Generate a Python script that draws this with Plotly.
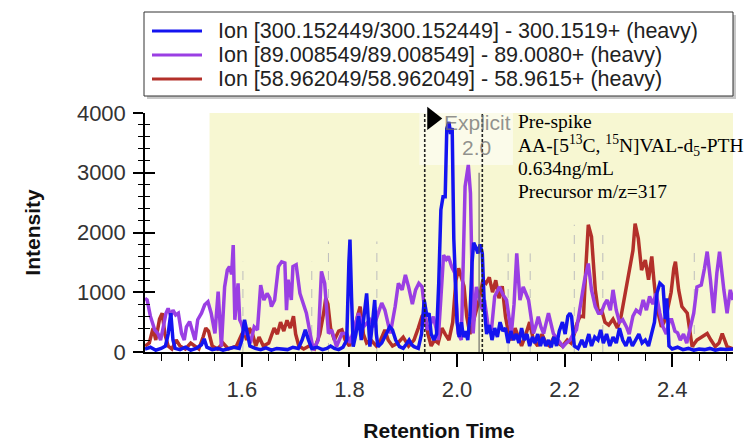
import plotly.graph_objects as go

# ---------------- data ----------------
series_names = [
    "Ion [300.152449/300.152449] - 300.1519+ (heavy)",
    "Ion [89.008549/89.008549] - 89.0080+ (heavy)",
    "Ion [58.962049/58.962049] - 58.9615+ (heavy)",
]

blue_t = [1.420, 1.430, 1.440, 1.450, 1.458, 1.463, 1.468, 1.472, 1.476, 1.485, 1.495, 1.505, 1.515, 1.525,
          1.530, 1.535, 1.545, 1.555, 1.565, 1.575, 1.585, 1.595, 1.600, 1.605, 1.610, 1.615, 1.625, 1.635,
          1.645, 1.655, 1.665, 1.675, 1.685, 1.695, 1.705, 1.712, 1.718, 1.724, 1.730, 1.740, 1.750, 1.758,
          1.765, 1.772, 1.780, 1.788, 1.795, 1.799, 1.801, 1.804, 1.807, 1.812, 1.817, 1.822, 1.828, 1.832,
          1.836, 1.838, 1.843, 1.847, 1.850, 1.853, 1.860, 1.865, 1.869, 1.875, 1.880, 1.886, 1.893, 1.900,
          1.905, 1.911, 1.916, 1.920, 1.928, 1.934, 1.939, 1.944, 1.948, 1.952, 1.957, 1.962, 1.966, 1.970,
          1.974, 1.978, 1.981, 1.985, 1.988, 1.991, 1.994, 1.997, 2.000, 2.004, 2.008, 2.012, 2.016, 2.020,
          2.024, 2.028, 2.031, 2.035, 2.039, 2.043, 2.047, 2.051, 2.055, 2.060, 2.065, 2.070, 2.075, 2.080,
          2.085, 2.090, 2.095, 2.100, 2.105, 2.110, 2.115, 2.120, 2.125, 2.130, 2.135, 2.140, 2.145, 2.150,
          2.155, 2.160, 2.165, 2.170, 2.175, 2.180, 2.185, 2.190, 2.196, 2.201, 2.206, 2.210, 2.213, 2.218,
          2.225, 2.232, 2.238, 2.245, 2.250, 2.256, 2.262, 2.267, 2.272, 2.278, 2.284, 2.290, 2.296, 2.302,
          2.308, 2.314, 2.320, 2.326, 2.332, 2.338, 2.344, 2.350, 2.356, 2.362, 2.367, 2.372, 2.377, 2.383,
          2.387, 2.390, 2.394, 2.400, 2.410, 2.420, 2.430, 2.440, 2.450, 2.460, 2.470, 2.480, 2.490, 2.500,
          2.513]
blue_v = [50, 80, 30, 60, 100, 300, 650, 200, 60, 40, 80, 30, 60, 120,
          220, 80, 40, 60, 30, 50, 80, 60, 200, 540, 300, 100, 60, 40,
          70, 30, 60, 50, 40, 80, 60, 200, 370, 200, 60, 80, 40, 60,
          100, 60, 40, 80, 200, 1500, 1880, 900, 90, 300, 600, 200, 700, 980,
          400, 90, 500, 870, 300, 90, 150, 250, 310, 420, 370, 200, 90, 60,
          120, 200, 120, 90, 60, 300, 870, 600, 650, 300, 200, 300, 1150, 2380,
          2600, 2600, 3740, 3850, 3650, 3750, 1900, 1300, 500, 250, 500, 250, 350, 200,
          600, 1500, 1830, 1750, 1650, 1800, 1650, 700, 300, 450, 200, 400, 250, 500,
          350, 400, 150, 350, 200, 300, 150, 400, 200, 300, 100, 250, 150, 300,
          100, 250, 100, 200, 80, 250, 100, 350, 500, 300, 600, 650, 590, 100,
          60, 200, 80, 300, 100, 250, 200, 370, 150, 300, 100, 250, 150, 400,
          200, 100, 250, 100, 200, 300, 150, 200, 100, 300, 500, 1000, 1150, 1100,
          550, 900, 100, 50, 80, 40, 60, 30, 50, 40, 60, 30, 50, 40,
          50]

purple_t = [1.420, 1.424, 1.430, 1.438, 1.444, 1.449, 1.454, 1.459, 1.463, 1.468, 1.472, 1.477, 1.482, 1.488,
            1.493, 1.497, 1.503, 1.509, 1.513, 1.518, 1.525, 1.531, 1.537, 1.543, 1.550, 1.556, 1.562, 1.568,
            1.573, 1.577, 1.581, 1.584, 1.587, 1.593, 1.596, 1.599, 1.605, 1.610, 1.616, 1.623, 1.629, 1.635,
            1.641, 1.647, 1.652, 1.655, 1.661, 1.668, 1.674, 1.680, 1.683, 1.686, 1.692, 1.695, 1.701, 1.708,
            1.714, 1.720, 1.727, 1.733, 1.742, 1.748, 1.754, 1.761, 1.767, 1.772, 1.776, 1.786, 1.795, 1.801,
            1.807, 1.812, 1.817, 1.826, 1.832, 1.838, 1.845, 1.851, 1.860, 1.866, 1.871, 1.876, 1.885, 1.891,
            1.898, 1.904, 1.910, 1.917, 1.923, 1.929, 1.935, 1.940, 1.944, 1.950, 1.956, 1.961, 1.965, 1.970,
            1.975, 1.980, 1.984, 1.990, 1.996, 2.002, 2.008, 2.015, 2.021, 2.025, 2.030, 2.036, 2.042, 2.047,
            2.051, 2.058, 2.064, 2.070, 2.079, 2.086, 2.092, 2.101, 2.106, 2.111, 2.117, 2.123, 2.133, 2.142,
            2.147, 2.151, 2.156, 2.161, 2.170, 2.175, 2.179, 2.188, 2.197, 2.203, 2.210, 2.216, 2.222, 2.231,
            2.237, 2.244, 2.250, 2.257, 2.263, 2.268, 2.274, 2.279, 2.285, 2.290, 2.296, 2.302, 2.308, 2.315,
            2.320, 2.327, 2.333, 2.340, 2.346, 2.352, 2.358, 2.364, 2.370, 2.377, 2.383, 2.389, 2.395, 2.399,
            2.405, 2.410, 2.415, 2.421, 2.427, 2.434, 2.440, 2.446, 2.454, 2.460, 2.465, 2.471, 2.477, 2.483,
            2.488, 2.496, 2.502, 2.508, 2.513]
purple_v = [900, 870, 600, 370, 310, 200, 420, 650, 730, 600, 700, 620, 650, 310,
            200, 420, 510, 310, 200, 540, 650, 790, 840, 650, 310, 1010, 90, 1090,
            1370, 1430, 1300, 1790, 540, 1150, 540, 480, 310, 310, 150, 420, 370, 1120,
            870, 980, 900, 760, 870, 1430, 1510, 1490, 700, 1210, 870, 1430, 1460, 980,
            820, 650, 310, 30, 200, 1350, 1150, 310, 370, 200, 90, 310, 310, 150,
            370, 500, 650, 420, 480, 540, 420, 590, 820, 700, 500, 310, 760, 1150,
            1040, 1290, 1090, 800, 1040, 1150, 1090, 650, 370, 450, 590, 400, 200, 900,
            1620, 1550, 1600, 1430, 1320, 310, 200, 2770, 3130, 2660, 310, 1090, 870, 700,
            870, 420, 370, 930, 1090, 950, 870, 310, 800, 1650, 870, 1090, 870, 310,
            450, 590, 420, 310, 650, 450, 310, 200, 90, 150, 200, 300, 370, 870,
            1200, 1480, 1040, 760, 650, 650, 800, 870, 700, 1040, 700, 500, 540, 420,
            300, 600, 700, 650, 870, 700, 930, 800, 980, 650, 420, 300, 540, 540,
            350, 320, 200, 300, 150, 420, 650, 1090, 1120, 1400, 1680, 1210, 650, 1320,
            1680, 1040, 650, 1040, 870]

red_t = [1.420, 1.428, 1.435, 1.440, 1.447, 1.452, 1.457, 1.463, 1.470, 1.478, 1.485, 1.495, 1.505, 1.512,
         1.520, 1.528, 1.533, 1.538, 1.545, 1.555, 1.565, 1.575, 1.590, 1.600, 1.604, 1.609, 1.614, 1.620,
         1.626, 1.632, 1.640, 1.650, 1.660, 1.666, 1.672, 1.678, 1.684, 1.690, 1.696, 1.700, 1.706, 1.715,
         1.725, 1.735, 1.745, 1.752, 1.756, 1.760, 1.765, 1.772, 1.780, 1.786, 1.792, 1.800, 1.808, 1.815,
         1.820, 1.826, 1.832, 1.840, 1.850, 1.858, 1.866, 1.872, 1.880, 1.890, 1.900, 1.910, 1.920, 1.928,
         1.935, 1.940, 1.946, 1.952, 1.958, 1.965, 1.972, 1.978, 1.985, 1.992, 1.998, 2.003, 2.008, 2.013,
         2.018, 2.024, 2.030, 2.036, 2.042, 2.048, 2.054, 2.060, 2.066, 2.072, 2.078, 2.084, 2.090, 2.096,
         2.102, 2.108, 2.114, 2.120, 2.128, 2.135, 2.142, 2.150, 2.158, 2.165, 2.172, 2.180, 2.188, 2.196,
         2.205, 2.212, 2.218, 2.223, 2.229, 2.235, 2.240, 2.244, 2.250, 2.254, 2.257, 2.263, 2.269, 2.275,
         2.282, 2.290, 2.298, 2.305, 2.311, 2.316, 2.322, 2.327, 2.331, 2.337, 2.343, 2.350, 2.356, 2.362,
         2.366, 2.371, 2.380, 2.385, 2.390, 2.398, 2.403, 2.406, 2.412, 2.418, 2.428, 2.437, 2.446, 2.455,
         2.465, 2.472, 2.480, 2.487, 2.493, 2.502, 2.513]
red_v = [100, 150, 400, 200, 550, 650, 300, 100, 50, 200, 100, 50, 150, 100,
         50, 250, 400, 350, 100, 50, 150, 50, 100, 300, 350, 200, 400, 300,
         100, 250, 100, 150, 400, 300, 500, 350, 530, 400, 600, 300, 100, 50,
         100, 50, 300, 650, 900, 800, 400, 200, 350, 370, 200, 100, 300, 600,
         760, 300, 150, 200, 100, 200, 370, 200, 100, 150, 250, 100, 200, 400,
         600, 650, 300, 100, 200, 150, 400, 300, 200, 500, 1200, 1400, 1250, 1100,
         600, 300, 500, 700, 900, 1200, 1150, 1250, 1000, 1200, 900, 1100, 600, 300,
         200, 400, 250, 100, 300, 500, 200, 100, 300, 150, 100, 250, 150, 100,
         200, 150, 300, 480, 600, 590, 1500, 2130, 1930, 1500, 1040, 650, 700, 500,
         450, 550, 400, 600, 900, 1150, 1430, 1700, 2150, 1900, 1370, 1540, 1210, 1600,
         1200, 760, 420, 500, 650, 1000, 1400, 1510, 1040, 760, 650, 90, 200, 250,
         310, 200, 90, 150, 310, 90, 50]

# peak integration boundaries (retention time) and annotation text
peak_start = 1.940
peak_end = 2.047
peak_apex_marker = 2.041
peak_apex_marker_height = 3000
other_boundaries_t = [1.602, 1.730, 1.761, 1.851, 2.095, 2.136, 2.218, 2.271, 2.441]
other_boundaries_h = [1510, 1510, 1850, 1850, 1650, 1650, 2130, 2100, 1680]
shaded_start = 1.54
peak_label = ["Explicit", "2.0"]
info_lines = ["Pre-spike",
              "AA-[5<sup>13</sup>C, <sup>15</sup>N]VAL-d<sub>5</sub>-PTH",
              "0.634ng/mL",
              "Precursor m/z=317"]

X_RANGE = [1.42, 2.513]
Y_RANGE = [0, 4000]

BLUE = "#1414f0"
PURPLE = "#9a3fe3"
RED = "#b3302a"
SANS = "Arial, Liberation Sans, sans-serif"
SERIF = "Times New Roman, Liberation Serif, serif"

# figure geometry (pixels)
W, H = 749, 444
ML, MR, MT, MB = 145, 16, 113, 92
PW, PH = W - ML - MR, H - MT - MB


def px_x(p):
    return (p - ML) / PW


def px_y(p):
    return (H - MB - p) / PH


colors = [BLUE, PURPLE, RED]

fig = go.Figure()
fig.add_trace(go.Scatter(x=red_t, y=red_v, mode="lines", name=series_names[2],
                         line=dict(color=RED, width=3.5), showlegend=False))
fig.add_trace(go.Scatter(x=purple_t, y=purple_v, mode="lines", name=series_names[1],
                         line=dict(color=PURPLE, width=3.5), showlegend=False))
fig.add_trace(go.Scatter(x=blue_t, y=blue_v, mode="lines", name=series_names[0],
                         line=dict(color=BLUE, width=3.5), showlegend=False))
# dummy trace for second (inside-tick) y axis
fig.add_trace(go.Scatter(x=[], y=[], yaxis="y2", showlegend=False, hoverinfo="skip"))
# flag marker at start of peak
fig.add_trace(go.Scatter(x=[peak_start + 0.014], y=[Y_RANGE[1] - 90], mode="markers",
                         marker=dict(symbol="triangle-right", size=20, color="black"),
                         showlegend=False, hoverinfo="skip", cliponaxis=False))

shapes = []
# shaded integration window
shapes.append(dict(type="rect", xref="x", yref="y", x0=shaded_start, x1=X_RANGE[1], y0=Y_RANGE[0],
                   y1=Y_RANGE[1], fillcolor="#f7f7d2", line=dict(width=0), layer="below"))
# lighter box behind peak label
shapes.append(dict(type="rect", xref="x", yref="y", x0=peak_start - 0.01, x1=2.104, y0=3130,
                   y1=Y_RANGE[1], fillcolor="#fbfbea", line=dict(width=0), layer="below"))
for t, h in zip(other_boundaries_t, other_boundaries_h):
    shapes.append(dict(type="line", xref="x", yref="y", x0=t, x1=t, y0=0, y1=h,
                       line=dict(color="#bdbdbd", width=1, dash="dash"), layer="below"))
for t in (peak_start, peak_end):
    shapes.append(dict(type="line", xref="x", yref="y", x0=t, x1=t, y0=0, y1=Y_RANGE[1],
                       line=dict(color="#222222", width=1.6, dash="3px,2px")))
shapes.append(dict(type="line", xref="x", yref="y", x0=peak_apex_marker, x1=peak_apex_marker, y0=0,
                   y1=peak_apex_marker_height, line=dict(color="#555555", width=1)))

# legend box (drawn manually to match the compact row spacing)
LEG_L, LEG_R, LEG_T, LEG_B = 144, 733, 12, 96
ROW_Y = [31, 55, 79]
shapes.append(dict(type="rect", xref="paper", yref="paper", x0=px_x(LEG_L + 3), x1=px_x(LEG_R + 3),
                   y0=px_y(LEG_B + 3), y1=px_y(LEG_T + 3), fillcolor="#c8c8c8", line=dict(width=0)))
shapes.append(dict(type="rect", xref="paper", yref="paper", x0=px_x(LEG_L), x1=px_x(LEG_R),
                   y0=px_y(LEG_B), y1=px_y(LEG_T), fillcolor="white", line=dict(color="#333333", width=1)))
annotations = []
for name, col, ry in zip(series_names, colors, ROW_Y):
    shapes.append(dict(type="line", xref="paper", yref="paper", x0=px_x(152), x1=px_x(202),
                       y0=px_y(ry), y1=px_y(ry), line=dict(color=col, width=3)))
    annotations.append(dict(x=px_x(216), y=px_y(ry), xref="paper", yref="paper", text=name,
                            showarrow=False, xanchor="left", yanchor="middle",
                            font=dict(family=SANS, size=21.5, color="#222222")))

label_y = [3840, 3430]
label_x = [2.038, 2.037]
for txt, xx, yy in zip(peak_label, label_x, label_y):
    annotations.append(dict(x=xx, y=yy, xref="x", yref="y", text=txt, showarrow=False,
                            font=dict(family=SANS, size=21, color="rgba(110,110,110,0.75)")))
info_y = [3850, 3460, 3075, 2690]
for txt, yy in zip(info_lines, info_y):
    annotations.append(dict(x=2.110, y=yy, xref="x", yref="y", text=txt, showarrow=False,
                            xanchor="left", font=dict(family=SERIF, size=19.5, color="black")))

fig.update_layout(
    width=W, height=H,
    margin=dict(l=ML, r=MR, t=MT, b=MB, autoexpand=False),
    paper_bgcolor="white", plot_bgcolor="white",
    shapes=shapes, annotations=annotations,
    showlegend=False,
    xaxis=dict(range=X_RANGE, automargin=False, showgrid=False, zeroline=False, showline=True,
               linecolor="black", linewidth=1.5, ticks="outside", ticklen=13, tickwidth=1.5, tickcolor="black",
               tickvals=[1.6, 1.8, 2.0, 2.2, 2.4], ticktext=["1.6", "1.8", "2.0", "2.2", "2.4"],
               minor=dict(dtick=0.05, tick0=1.45, ticks="outside", ticklen=7, tickcolor="black", tickwidth=1.2),
               tickfont=dict(family=SANS, size=22, color="#333333"), ticklabelstandoff=4,
               title=dict(text="<b>Retention Time</b>", font=dict(family=SANS, size=21, color="#111111"),
                          standoff=22)),
    yaxis=dict(range=Y_RANGE, automargin=False, showgrid=False, zeroline=False, showline=True,
               linecolor="black", linewidth=1.5, ticks="outside", ticklen=10, tickwidth=1.5, tickcolor="black",
               dtick=1000, tick0=0,
               minor=dict(dtick=200, ticks="outside", ticklen=5, tickcolor="black", tickwidth=1.2),
               tickfont=dict(family=SANS, size=22, color="#333333"), ticklabelstandoff=3,
               title=dict(text="<b>Intensity</b>", font=dict(family=SANS, size=21, color="#111111"),
                          standoff=31)),
    yaxis2=dict(range=Y_RANGE, automargin=False, overlaying="y", side="left", showgrid=False, zeroline=False,
                showline=False, ticks="inside", ticklen=10, tickwidth=1.5, tickcolor="black",
                dtick=1000, tick0=0, showticklabels=False,
                minor=dict(dtick=200, ticks="inside", ticklen=5, tickcolor="black", tickwidth=1.2)),
)

fig.write_html("out.html")
